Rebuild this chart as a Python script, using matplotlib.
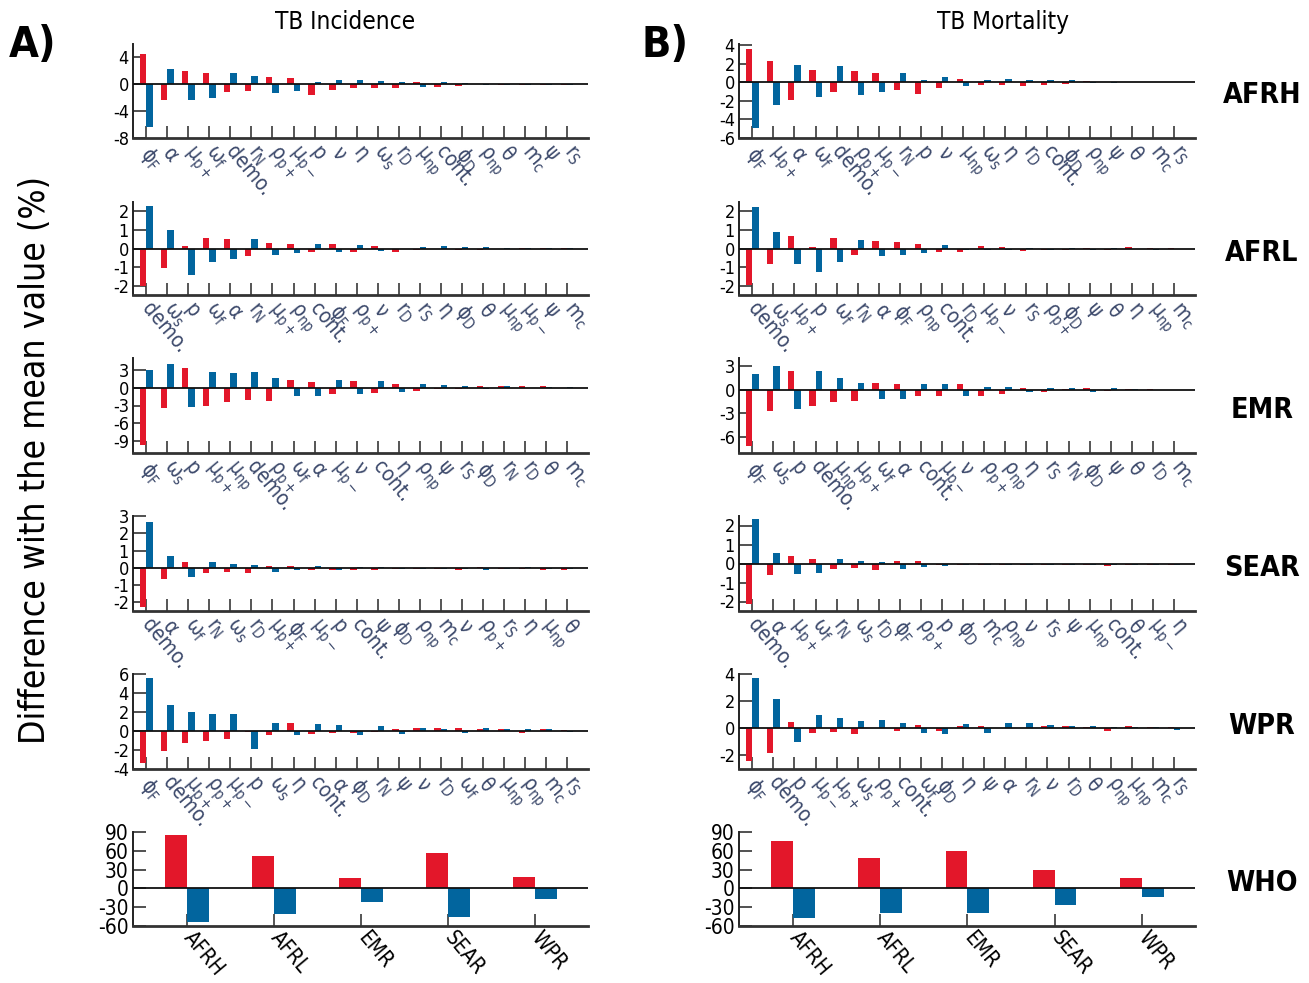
import matplotlib
matplotlib.use("Agg")
import matplotlib.pyplot as plt
from matplotlib.transforms import ScaledTranslation

plt.rcParams['font.family'] = ['DejaVu Sans']
plt.rcParams['font.stretch'] = 'condensed'
plt.rcParams['mathtext.default'] = 'regular'

RED = '#e3172a'
BLUE = '#02659e'
LBL = '#3d4a6c'

L = {
    'phiF': r'$\phi_F$', 'alpha': r'$\alpha$', 'mupp': r'$\mu_{p+}$', 'omf': r'$\omega_f$',
    'demo': 'demo.', 'rN': r'$r_N$', 'rhopp': r'$\rho_{p+}$', 'mupm': r'$\mu_{p-}$',
    'p': 'p', 'nu': r'$\nu$', 'eta': r'$\eta$', 'oms': r'$\omega_s$', 'rD': r'$r_D$',
    'munp': r'$\mu_{np}$', 'cont': 'cont.', 'phiD': r'$\phi_D$', 'rhonp': r'$\rho_{np}$',
    'theta': r'$\theta$', 'mc': r'$m_c$', 'psi': r'$\psi$', 'rS': r'$r_S$',
}

# ---------- TB Incidence ----------
inc_afrh_labels = ['phiF', 'alpha', 'mupp', 'omf', 'demo', 'rN', 'rhopp', 'mupm', 'p', 'nu', 'eta',
                   'oms', 'rD', 'munp', 'cont', 'phiD', 'rhonp', 'theta', 'mc', 'psi', 'rS']
inc_afrh_red = [4.47, -2.4, 2.04, 1.7, -1.2, -1.07, 1.1, 0.97, -1.55, -0.78, -0.58,
                -0.49, -0.53, 0.34, -0.34, -0.29, 0.1, -0.1, -0.1, -0.05, -0.05]
inc_afrh_blue = [-6.3, 2.3, -2.3, -2.1, 1.65, 1.2, -1.26, -1.07, 0.39, 0.63, 0.63,
                 0.44, 0.29, -0.39, 0.34, 0.19, -0.15, -0.05, -0.05, -0.05, -0.05]

inc_afrl_labels = ['demo', 'oms', 'p', 'omf', 'alpha', 'rN', 'mupp', 'rhonp', 'cont', 'phiF', 'rhopp',
                   'nu', 'rD', 'rS', 'eta', 'phiD', 'theta', 'munp', 'mupm', 'psi', 'mc']
inc_afrl_red = [-2.0, -1.03, 0.14, 0.57, 0.51, -0.39, 0.27, 0.23, -0.21, 0.23, -0.19,
                0.12, -0.18, -0.1, -0.04, -0.09, -0.07, -0.05, 0.03, 0.03, 0.03]
inc_afrl_blue = [2.3, 1.01, -1.42, -0.74, -0.57, 0.53, -0.34, -0.23, 0.23, -0.18, 0.18,
                 -0.12, -0.05, 0.07, 0.12, 0.07, 0.1, 0.03, 0.03, 0.03, 0.02]

inc_emr_labels = ['phiF', 'oms', 'p', 'mupp', 'munp', 'demo', 'rhopp', 'omf', 'alpha', 'mupm', 'nu',
                  'cont', 'eta', 'rhonp', 'psi', 'rS', 'phiD', 'rN', 'rD', 'theta', 'mc']
inc_emr_red = [-9.6, -3.5, 3.28, -3.1, -2.37, -2.15, -2.2, 1.24, 0.9, -1.13, 1.07,
               -0.96, 0.62, -0.56, -0.28, -0.23, 0.34, 0.28, 0.23, 0.23, 0.0]
inc_emr_blue = [2.94, 4.07, -3.2, 2.7, 2.49, 2.6, 1.58, -1.47, -1.47, 1.24, -1.02,
                1.13, -0.68, 0.56, 0.4, 0.34, -0.23, 0.23, -0.05, 0.17, 0.17]

inc_sear_labels = ['demo', 'alpha', 'omf', 'rN', 'oms', 'rD', 'mupp', 'phiF', 'mupm', 'p', 'cont',
                   'psi', 'phiD', 'rhonp', 'mc', 'nu', 'rhopp', 'rS', 'eta', 'munp', 'theta']
inc_sear_red = [-2.27, -0.65, 0.35, -0.31, -0.27, -0.31, 0.12, 0.12, -0.12, -0.12, -0.12,
                -0.1, -0.08, -0.08, -0.08, -0.1, 0.04, -0.08, -0.08, -0.1, -0.1]
inc_sear_blue = [2.63, 0.71, -0.53, 0.35, 0.24, 0.18, -0.22, -0.12, 0.12, -0.12, 0.04,
                 0.04, -0.08, -0.08, -0.08, -0.06, -0.12, -0.08, 0.04, -0.06, -0.06]

inc_wpr_labels = ['phiF', 'demo', 'mupp', 'rhopp', 'mupm', 'p', 'oms', 'eta', 'cont', 'alpha', 'phiD',
                  'rN', 'psi', 'nu', 'rD', 'omf', 'theta', 'munp', 'rhonp', 'mc', 'rS']
inc_wpr_red = [-3.33, -2.14, -1.26, -1.02, -0.88, -0.1, -0.46, 0.84, -0.35, -0.18, -0.25,
               -0.1, 0.25, 0.28, 0.28, 0.28, 0.18, 0.18, -0.21, 0.18, 0.14]
inc_wpr_blue = [5.58, 2.7, 2.0, 1.79, 1.79, -1.93, 0.84, -0.46, 0.7, 0.6, -0.46,
                0.49, -0.35, 0.28, 0.18, -0.21, 0.28, 0.18, 0.18, 0.18, -0.07]

# ---------- TB Mortality ----------
mort_afrh_labels = ['phiF', 'mupp', 'alpha', 'omf', 'demo', 'rhopp', 'mupm', 'rN', 'p', 'nu', 'munp',
                    'oms', 'eta', 'rD', 'cont', 'phiD', 'rhonp', 'psi', 'theta', 'mc', 'rS']
mort_afrh_red = [3.58, 2.25, -1.9, 1.3, -1.09, 1.19, 0.95, -0.84, -1.23, -0.63, 0.39,
                 -0.35, -0.32, -0.46, -0.32, -0.21, 0.1, 0.07, 0.07, 0.05, 0.03]
mort_afrh_blue = [-4.95, -2.5, 1.8, -1.6, 1.75, -1.33, -1.09, 0.98, 0.28, 0.56, -0.42,
                  0.28, 0.39, 0.21, 0.28, 0.18, -0.14, -0.07, 0.07, -0.03, -0.03]

mort_afrl_labels = ['demo', 'oms', 'mupp', 'p', 'omf', 'rN', 'alpha', 'phiF', 'rhonp', 'cont', 'rD',
                    'mupm', 'nu', 'rS', 'rhopp', 'phiD', 'psi', 'theta', 'eta', 'munp', 'mc']
mort_afrl_red = [-1.95, -0.83, 0.67, 0.07, 0.57, -0.34, 0.39, 0.34, 0.23, -0.18, -0.18,
                 0.12, 0.07, -0.12, -0.07, -0.07, 0.05, -0.07, 0.1, 0.05, 0.03]
mort_afrl_blue = [2.25, 0.87, -0.81, -1.29, -0.73, 0.48, -0.39, -0.34, -0.23, 0.18, -0.09,
                  -0.1, -0.1, 0.05, -0.07, 0.05, -0.07, 0.05, -0.02, -0.09, -0.02]

mort_emr_labels = ['phiF', 'oms', 'p', 'demo', 'munp', 'mupp', 'omf', 'alpha', 'cont', 'mupm', 'nu',
                   'rhopp', 'rhonp', 'eta', 'rS', 'rN', 'phiD', 'psi', 'theta', 'rD', 'mc']
mort_emr_red = [-7.15, -2.72, 2.38, -2.09, -1.57, -1.45, 0.89, 0.68, -0.81, -0.81, 0.72,
                -0.81, -0.51, 0.21, -0.26, 0.13, 0.17, -0.13, 0.08, 0.08, -0.04]
mort_emr_blue = [1.96, 2.98, -2.47, 2.38, 1.53, 0.85, -1.23, -1.15, 0.72, 0.72, -0.81,
                 0.34, 0.38, -0.34, 0.21, 0.21, -0.26, 0.17, 0.08, -0.04, -0.04]

mort_sear_labels = ['demo', 'alpha', 'mupp', 'omf', 'rN', 'oms', 'rD', 'phiF', 'rhopp', 'p', 'phiD',
                    'mc', 'rhonp', 'nu', 'rS', 'psi', 'munp', 'cont', 'theta', 'mupm', 'eta']
mort_sear_red = [-2.15, -0.6, 0.39, 0.25, -0.3, -0.25, -0.32, 0.11, 0.11, -0.09, -0.08,
                 -0.08, -0.08, -0.08, -0.08, -0.06, -0.06, -0.12, -0.06, -0.06, -0.06]
mort_sear_blue = [2.34, 0.55, -0.55, -0.48, 0.25, 0.14, 0.09, -0.27, -0.21, -0.12, -0.08,
                  -0.08, -0.08, -0.08, -0.08, -0.06, -0.06, -0.06, -0.06, -0.06, -0.06]

mort_wpr_labels = ['phiF', 'demo', 'p', 'mupm', 'mupp', 'oms', 'rhopp', 'cont', 'omf', 'phiD', 'eta',
                   'psi', 'alpha', 'rN', 'nu', 'rD', 'theta', 'rhonp', 'munp', 'mc', 'rS']
mort_wpr_red = [-2.4, -1.83, 0.49, -0.35, -0.25, -0.4, 0.05, -0.2, 0.27, -0.22, 0.2,
                0.2, 0.05, 0.05, 0.17, 0.17, 0.12, -0.17, 0.15, 0.12, 0.1]
mort_wpr_blue = [3.7, 2.17, -0.99, 1.01, 0.74, 0.57, 0.64, 0.42, -0.32, -0.4, 0.3,
                 -0.32, 0.42, 0.37, 0.22, 0.2, 0.2, 0.12, 0.12, 0.12, -0.12]

# ---------- WHO ----------
regions = ['AFRH', 'AFRL', 'EMR', 'SEAR', 'WPR']
who_inc_red = [84.5, 51, 16.5, 56, 18.5]
who_inc_blue = [-54, -41.5, -22, -45, -17]
who_mort_red = [75, 49, 59, 30, 16]
who_mort_blue = [-48, -40, -40, -27, -14]

row_names = ['AFRH', 'AFRL', 'EMR', 'SEAR', 'WPR', 'WHO']

inc_panels = [
    (inc_afrh_labels, inc_afrh_red, inc_afrh_blue, (-8, 6), [-8, -4, 0, 4]),
    (inc_afrl_labels, inc_afrl_red, inc_afrl_blue, (-2.5, 2.5), [-2, -1, 0, 1, 2]),
    (inc_emr_labels, inc_emr_red, inc_emr_blue, (-11, 5), [-9, -6, -3, 0, 3]),
    (inc_sear_labels, inc_sear_red, inc_sear_blue, (-2.5, 3), [-2, -1, 0, 1, 2, 3]),
    (inc_wpr_labels, inc_wpr_red, inc_wpr_blue, (-4, 6), [-4, -2, 0, 2, 4, 6]),
]
mort_panels = [
    (mort_afrh_labels, mort_afrh_red, mort_afrh_blue, (-6, 4.1), [-6, -4, -2, 0, 2, 4]),
    (mort_afrl_labels, mort_afrl_red, mort_afrl_blue, (-2.5, 2.5), [-2, -1, 0, 1, 2]),
    (mort_emr_labels, mort_emr_red, mort_emr_blue, (-8, 4), [-6, -3, 0, 3]),
    (mort_sear_labels, mort_sear_red, mort_sear_blue, (-2.5, 2.5), [-2, -1, 0, 1, 2]),
    (mort_wpr_labels, mort_wpr_red, mort_wpr_blue, (-3, 4), [-2, 0, 2, 4]),
]

W, H = 1309, 983
fig = plt.figure(figsize=(W / 100, H / 100), dpi=100)

tops = [44, 202, 358, 516, 674, 832]
bots = [138, 295, 453, 611, 769, 926]
cols = [(133, 588), (739, 1195)]


def make_ax(col, row):
    x0, x1 = cols[col]
    t, b = tops[row], bots[row]
    return fig.add_axes([x0 / W, 1 - b / H, (x1 - x0) / W, (b - t) / H])


def style(ax):
    for s in ['top', 'right']:
        ax.spines[s].set_visible(False)
    ax.spines['left'].set_linewidth(1.4)
    ax.spines['left'].set_color('#222222')
    ax.spines['bottom'].set_linewidth(2.0)
    ax.spines['bottom'].set_color('#333333')
    ax.tick_params(axis='y', direction='in', length=9, width=1.2, color='#333333',
                   labelsize=13, pad=3)
    ax.tick_params(axis='x', direction='in', length=9, width=1.4, color='#555555', pad=3)
    ax.axhline(0, color='#111111', lw=1.3, zorder=3)


def shift_xlabels(ax, dx, dy):
    off = ScaledTranslation(dx / 100, -dy / 100, fig.dpi_scale_trans)
    for lab in ax.get_xticklabels():
        lab.set_transform(lab.get_transform() + off)


for col, panels in enumerate([inc_panels, mort_panels]):
    for row, (labs, red, blue, ylim, yt) in enumerate(panels):
        ax = make_ax(col, row)
        x = list(range(len(labs)))
        ax.bar(x, red, width=-0.3, align='edge', color=RED, zorder=2)
        ax.bar(x, blue, width=0.3, align='edge', color=BLUE, zorder=2)
        ax.set_xlim(-0.63, 21.0)
        ax.set_ylim(*ylim)
        ax.set_yticks(yt)
        ax.set_yticklabels([str(v) for v in yt])
        ax.set_xticks(x)
        ax.set_xticklabels([L[k] for k in labs], rotation=-50, ha='left', va='top',
                           rotation_mode='anchor', color=LBL, fontsize=15)
        style(ax)
        shift_xlabels(ax, 7, 0)
    # WHO
    ax = make_ax(col, 5)
    wr = [who_inc_red, who_mort_red][col]
    wb = [who_inc_blue, who_mort_blue][col]
    x = list(range(len(regions)))
    ax.bar(x, wr, width=-0.25, align='edge', color=RED, zorder=2)
    ax.bar(x, wb, width=0.25, align='edge', color=BLUE, zorder=2)
    ax.set_xlim(-0.62, 4.61)
    ax.set_ylim(-60, 90)
    yt = [-60, -30, 0, 30, 60, 90]
    ax.set_yticks(yt)
    ax.set_yticklabels([str(v) for v in yt])
    ax.set_xticks(x)
    ax.set_xticklabels(regions, rotation=-50, ha='left', va='top', rotation_mode='anchor',
                       color='black', fontsize=15)
    style(ax)
    ax.tick_params(axis='y', labelsize=15)
    shift_xlabels(ax, 8, -2)

fig.text(345 / W, 1 - 22 / H, 'TB Incidence', ha='center', va='center', fontsize=17.5)
fig.text(1003 / W, 1 - 22 / H, 'TB Mortality', ha='center', va='center', fontsize=17.5)
fig.text(33 / W, 1 - 45 / H, 'A)', ha='center', va='center', fontsize=31, fontweight='bold')
fig.text(665 / W, 1 - 45 / H, 'B)', ha='center', va='center', fontsize=31, fontweight='bold')
fig.text(35 / W, 1 - 460 / H, 'Difference with the mean value (%)', ha='center', va='center',
         rotation=90, fontsize=25.5)
rowy = [95, 253, 410, 568, 726, 883]
for name, yy in zip(row_names, rowy):
    fig.text(1262 / W, 1 - yy / H, name, ha='center', va='center', fontsize=20.5, fontweight='bold')

fig.savefig('out.png', dpi=100)
